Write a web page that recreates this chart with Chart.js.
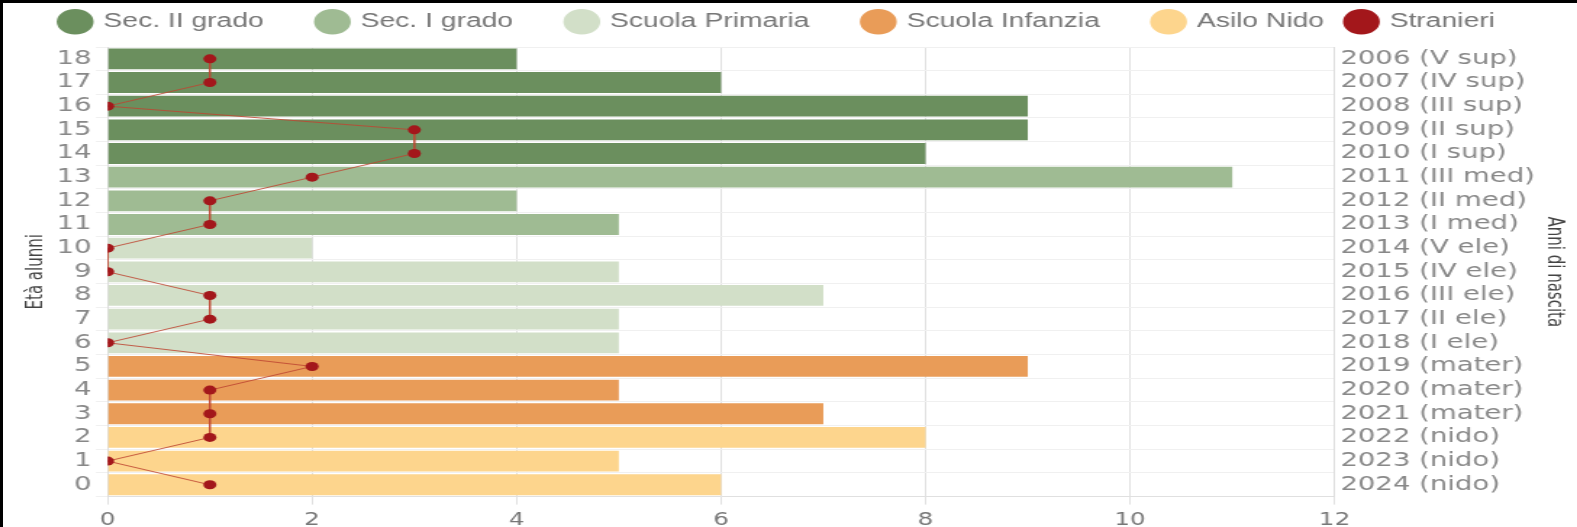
<!DOCTYPE html>
<html>
<head>
<meta charset="utf-8">
<script src="https://cdn.jsdelivr.net/npm/chart.js@4/dist/chart.umd.min.js"></script>
<style>
  html, body { margin: 0; padding: 0; background: #fff; overflow: hidden; }
  #frame {
    position: absolute; left: 0; top: 0;
    width: 1574px; height: 524px;
    border-left: 3px solid #000; border-top: 3px solid #000;
  }
  /* the reference is a horizontally stretched render */
  #stretch {
    position: absolute; left: 0; top: 0;
    width: 1086px; height: 524px;
    transform: scaleX(1.4494);
    transform-origin: 0 0;
  }
</style>
</head>
<body>
<div id="frame"><div id="stretch"><canvas id="scuolaChart" width="1086" height="524"></canvas></div></div>
<script>
// età alunni, dall'alto verso il basso
const ages = ['18','17','16','15','14','13','12','11','10','9','8','7','6','5','4','3','2','1','0']
const birthYears = ['2006 (V sup)','2007 (IV sup)','2008 (III sup)','2009 (II sup)','2010 (I sup)',
  '2011 (III med)','2012 (II med)','2013 (I med)','2014 (V ele)','2015 (IV ele)','2016 (III ele)',
  '2017 (II ele)','2018 (I ele)','2019 (mater)','2020 (mater)','2021 (mater)','2022 (nido)',
  '2023 (nido)','2024 (nido)']

const secII     = [4, 6, 9, 9, 8, null, null, null, null, null, null, null, null, null, null, null, null, null, null]
const secI      = [null, null, null, null, null, 11, 4, 5, null, null, null, null, null, null, null, null, null, null, null]
const primaria  = [null, null, null, null, null, null, null, null, 2, 5, 7, 5, 5, null, null, null, null, null, null]
const infanzia  = [null, null, null, null, null, null, null, null, null, null, null, null, null, 9, 5, 7, null, null, null]
const nido      = [null, null, null, null, null, null, null, null, null, null, null, null, null, null, null, null, 8, 5, 6]
const stranieri = [1, 1, 0, 3, 3, 2, 1, 1, 0, 0, 1, 1, 0, 2, 1, 1, 1, 0, 1]

const tickFont = "'DejaVu Sans', Verdana, sans-serif"
const legendFont = "'Liberation Sans', Arial, sans-serif"

function barSet(label, data, color) {
  return {
    type: 'bar',
    label: label,
    data: data,
    backgroundColor: color,
    borderWidth: 0,
    grouped: false,
    barPercentage: 0.88,
    categoryPercentage: 1,
    order: 1
  }
}

// fixed legend height, so the plot starts lower
const legendHeight = {
  id: 'legendHeight',
  beforeInit(chart) {
    const fit = chart.legend.fit
    chart.legend.fit = function () {
      fit.bind(chart.legend)()
      this.height = 51
    }
  }
}

const ctx = document.getElementById('scuolaChart').getContext('2d')
new Chart(ctx, {
  data: {
    labels: ages,
    datasets: [
      barSet('Sec. II grado', secII, '#6b8f5e'),
      barSet('Sec. I grado', secI, '#9fbb93'),
      barSet('Scuola Primaria', primaria, '#d2dfc8'),
      barSet('Scuola Infanzia', infanzia, '#e99c58'),
      barSet('Asilo Nido', nido, '#fdd58d'),
      {
        type: 'line',
        label: 'Stranieri',
        data: stranieri,
        borderColor: 'rgba(190, 70, 50, 0.85)',
        borderWidth: 1,
        backgroundColor: '#cc0000',
        pointBackgroundColor: '#a3171b',
        pointBorderColor: '#a3171b',
        pointRadius: 4.5,
        pointBorderWidth: 0,
        tension: 0,
        order: 0
      }
    ]
  },
  plugins: [legendHeight],
  options: {
    indexAxis: 'y',
    responsive: false,
    animation: false,
    layout: { padding: { left: 12, right: 7, top: -7, bottom: -10 } },
    plugins: {
      legend: {
        position: 'top',
        labels: {
          usePointStyle: true,
          pointStyle: 'circle',
          boxHeight: 18,
          padding: 16,
          color: '#777',
          font: { family: legendFont, size: 19.5 },
          sort: (a, b) => a.datasetIndex - b.datasetIndex,
          generateLabels(chart) {
            const items = Chart.defaults.plugins.legend.labels.generateLabels(chart)
            items.forEach((item, i) => {
              // wider gaps between entries, as in the original
              if (i < items.length - 1) item.text += '    '
              if (item.text === 'Stranieri') {
                item.fillStyle = '#cc0000'
                item.strokeStyle = '#cc0000'
              }
            })
            return items
          }
        }
      },
      tooltip: { enabled: false }
    },
    scales: {
      x: {
        type: 'linear',
        min: 0,
        max: 12,
        ticks: { stepSize: 2, padding: 6, color: '#777', font: { family: tickFont, size: 17 } },
        grid: { color: '#e0e0e0' },
        border: { color: '#e0e0e0' }
      },
      y: {
        type: 'category',
        labels: ages,
        offset: true,
        ticks: { autoSkip: false, color: '#888', font: { family: tickFont, size: 19 } },
        grid: { color: '#f0f0f0', offset: true },
        border: { color: '#ddd' },
        title: {
          display: true,
          text: 'Età alunni',
          color: '#444',
          padding: 2,
          font: { family: tickFont, size: 15 }
        }
      },
      y2: {
        type: 'category',
        labels: birthYears,
        position: 'right',
        offset: true,
        ticks: { autoSkip: false, padding: 4, color: '#888', font: { family: tickFont, size: 19 } },
        grid: { display: false, drawTicks: false },
        border: { color: '#ddd' },
        title: {
          display: true,
          text: 'Anni di nascita',
          color: '#444',
          padding: 0,
          font: { family: tickFont, size: 15 }
        }
      }
    }
  }
})
</script>
</body>
</html>
